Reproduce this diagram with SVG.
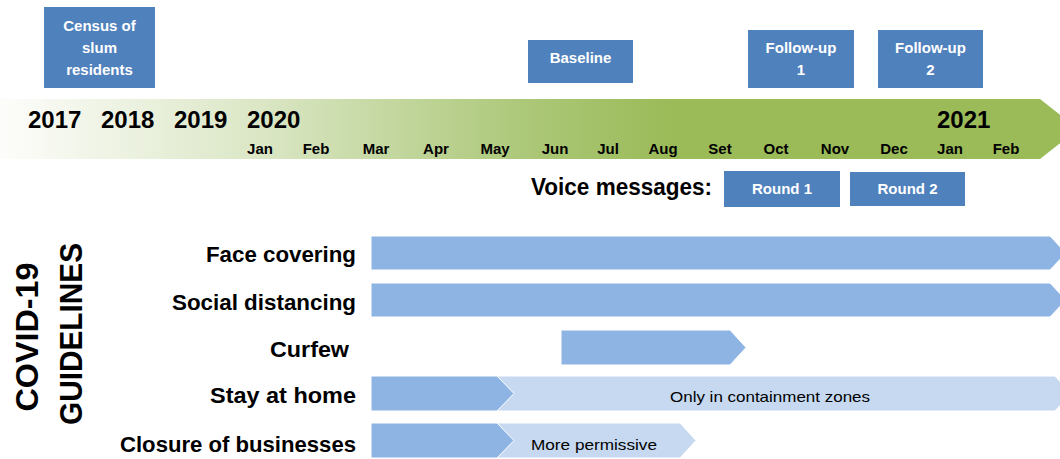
<svg xmlns="http://www.w3.org/2000/svg" width="1060" height="459" viewBox="0 0 1060 459">
<defs>
<linearGradient id="tl" gradientUnits="userSpaceOnUse" x1="0" y1="0" x2="1060" y2="0">
<stop offset="0" stop-color="#fdfdfb"/>
<stop offset="0.25" stop-color="#dae6c4"/>
<stop offset="0.5" stop-color="#abc777"/>
<stop offset="0.63" stop-color="#9bbb59"/>
<stop offset="1" stop-color="#9bbb59"/>
</linearGradient>
<style>
text{font-family:"Liberation Sans",Arial,sans-serif}
.box{fill:#4f81bd}
.bt{fill:#fff;font-weight:bold;font-size:15px;text-anchor:middle}
.yr{font-weight:bold;font-size:24px;fill:#000}
.mo{font-weight:bold;font-size:15px;fill:#000;text-anchor:middle}
.lbl{font-weight:bold;font-size:22px;fill:#000;text-anchor:end}
.dark{fill:#8eb4e3;stroke:#fff;stroke-width:1}
.light{fill:#c6d9f1;stroke:#fff;stroke-width:1}
.in{font-size:15px;fill:#000;text-anchor:middle}
</style>
</defs>
<rect width="1060" height="459" fill="#fff"/>

<g id="timeline">
<polygon points="0,99 1040,99 1078,129 1040,159 0,159" fill="url(#tl)"/>
<text class="yr" x="28" y="128">2017</text>
<text class="yr" x="101" y="128">2018</text>
<text class="yr" x="174" y="128">2019</text>
<text class="yr" x="247" y="128">2020</text>
<text class="yr" x="937" y="128">2021</text>
<text class="mo" x="260" y="154">Jan</text>
<text class="mo" x="316" y="154">Feb</text>
<text class="mo" x="376" y="154">Mar</text>
<text class="mo" x="436" y="154">Apr</text>
<text class="mo" x="495" y="154">May</text>
<text class="mo" x="555" y="154">Jun</text>
<text class="mo" x="608" y="154">Jul</text>
<text class="mo" x="663" y="154">Aug</text>
<text class="mo" x="720" y="154">Set</text>
<text class="mo" x="776" y="154">Oct</text>
<text class="mo" x="835" y="154">Nov</text>
<text class="mo" x="894" y="154">Dec</text>
<text class="mo" x="950" y="154">Jan</text>
<text class="mo" x="1006" y="154">Feb</text>
</g>

<g id="census">
<rect class="box" x="44" y="7" width="111" height="81"/>
<text class="bt" x="99.5" y="31">Census of</text>
<text class="bt" x="99.5" y="53">slum</text>
<text class="bt" x="99.5" y="75">residents</text>
</g>
<g id="baseline">
<rect class="box" x="528" y="40" width="105" height="43"/>
<text class="bt" x="580.5" y="63">Baseline</text>
</g>
<g id="followup1">
<rect class="box" x="748" y="30" width="106" height="58"/>
<text class="bt" x="801" y="53">Follow-up</text>
<text class="bt" x="801" y="75">1</text>
</g>
<g id="followup2">
<rect class="box" x="878" y="30" width="105" height="58"/>
<text class="bt" x="930.5" y="53">Follow-up</text>
<text class="bt" x="930.5" y="75">2</text>
</g>

<g id="voice">
<text x="712" y="195" font-size="23" font-weight="bold" text-anchor="end" textLength="181" lengthAdjust="spacingAndGlyphs">Voice messages:</text>
</g>
<g id="round1">
<rect class="box" x="724" y="171" width="116" height="36"/>
<text class="bt" x="782" y="194">Round 1</text>
</g>
<g id="round2">
<rect class="box" x="850" y="172" width="115" height="34"/>
<text class="bt" x="907.5" y="194">Round 2</text>
</g>

<g id="covid-title" font-weight="bold" font-size="32" fill="#000" text-anchor="middle">
<text transform="translate(38,337) rotate(-90)" textLength="149" lengthAdjust="spacingAndGlyphs">COVID-19</text>
<text transform="translate(82,334) rotate(-90)" textLength="182" lengthAdjust="spacingAndGlyphs">GUIDELINES</text>
</g>

<g id="face-covering">
<text class="lbl" x="356" y="262" textLength="150" lengthAdjust="spacingAndGlyphs">Face covering</text>
<polygon class="dark" points="371,236 1050,236 1066,253 1050,270 371,270"/>
</g>
<g id="social-distancing">
<text class="lbl" x="356" y="310" textLength="184" lengthAdjust="spacingAndGlyphs">Social distancing</text>
<polygon class="dark" points="371,283 1050,283 1066,300 1050,317 371,317"/>
</g>
<g id="curfew">
<text class="lbl" x="349" y="357" textLength="79" lengthAdjust="spacingAndGlyphs">Curfew</text>
<polygon class="dark" points="561,330 730,330 746,347.5 730,365 561,365"/>
</g>
<g id="stay-at-home">
<text class="lbl" x="356" y="403" textLength="146" lengthAdjust="spacingAndGlyphs">Stay at home</text>
<polygon class="light" points="480,376 1055,376 1071,393.5 1055,411 480,411"/>
<polygon class="dark" points="371,376 497,376 514,393.5 497,411 371,411"/>
<text class="in" x="770" y="402" textLength="200" lengthAdjust="spacingAndGlyphs">Only in containment zones</text>
</g>
<g id="closure">
<text class="lbl" x="356" y="452" textLength="236" lengthAdjust="spacingAndGlyphs">Closure of businesses</text>
<polygon class="light" points="480,423 680,423 696,440.5 680,458 480,458"/>
<polygon class="dark" points="371,423 497,423 514,440.5 497,458 371,458"/>
<text class="in" x="594" y="450" textLength="126" lengthAdjust="spacingAndGlyphs">More permissive</text>
</g>
</svg>
